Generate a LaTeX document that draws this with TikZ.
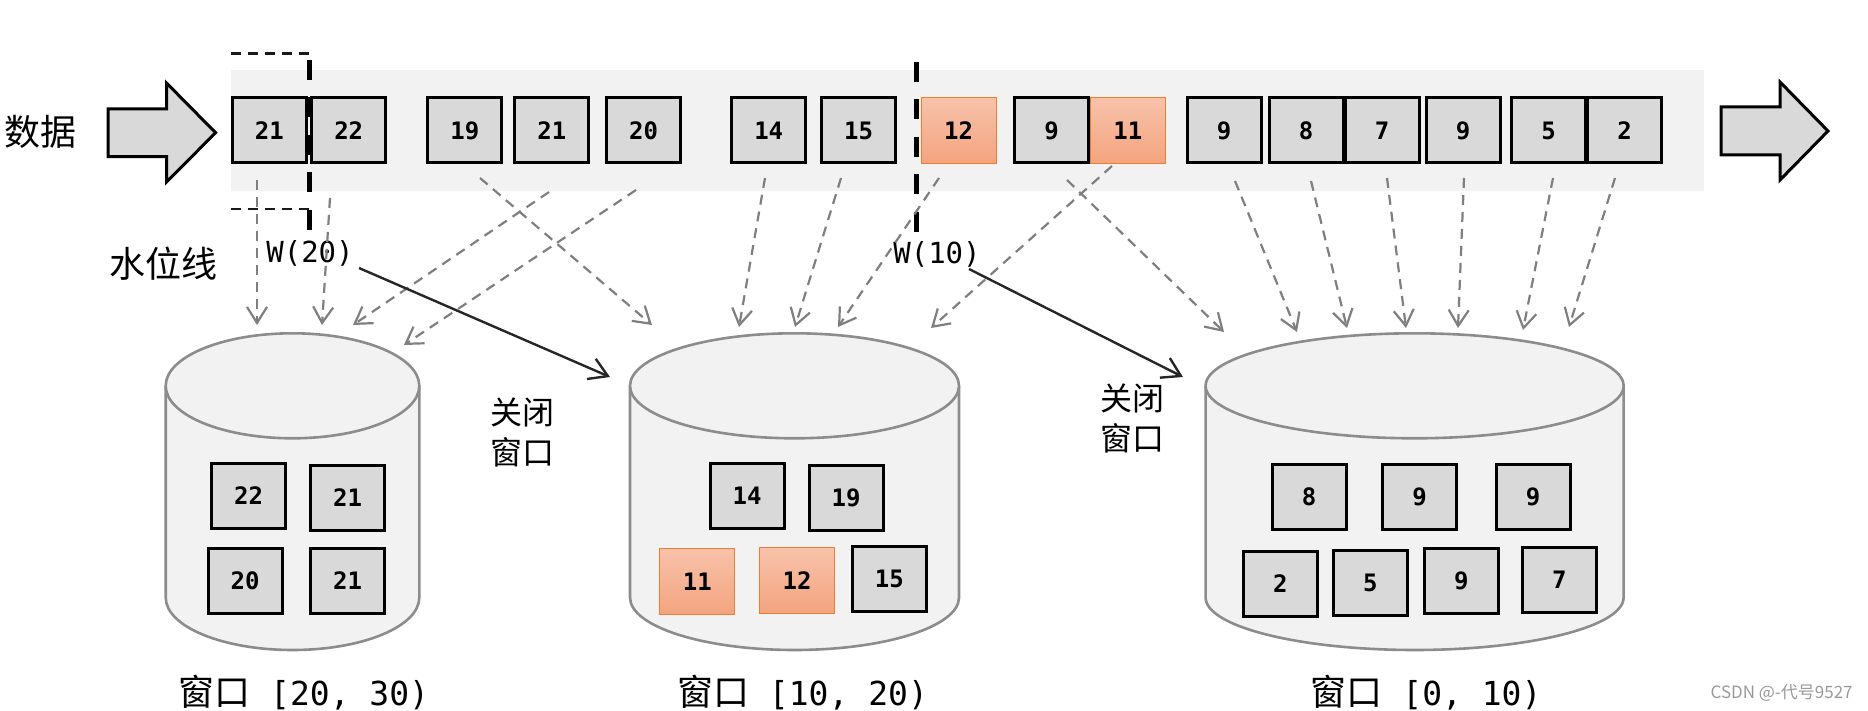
\documentclass[tikz,border=0pt]{standalone}
\usepackage{fontspec}
\usetikzlibrary{arrows.meta,calc}
\newfontfamily\cjk{Noto Sans CJK SC}
\newfontfamily\mono{DejaVu Sans Mono}
\definecolor{bandgray}{HTML}{F2F2F2}
\definecolor{boxgray}{HTML}{D9D9D9}
\definecolor{cylfill}{HTML}{F2F2F2}
\definecolor{cylline}{HTML}{8C8C8C}
\definecolor{orangeline}{HTML}{ED7D31}
\definecolor{orangetop}{HTML}{F7C2AA}
\definecolor{orangebot}{HTML}{F4A47F}
\definecolor{flowgray}{HTML}{7F7F7F}
\begin{document}
\begin{tikzpicture}[x=0.5pt,y=0.5pt,
  databox/.style={draw=black, fill=boxgray, line width=1.5pt, minimum width=37pt, minimum height=32.5pt, inner sep=0pt, font=\mono\bfseries\fontsize{12}{12}\selectfont},
  latebox/.style={draw=orangeline, line width=0.5pt, top color=orangetop, bottom color=orangebot, minimum width=37.5pt, minimum height=33pt, inner sep=0pt, font=\mono\bfseries\fontsize{12}{12}\selectfont},
  flow/.style={draw=flowgray, line width=1.1pt, dash pattern=on 5pt off 3.5pt, -{Straight Barb[length=8pt,width=10pt]}},
  closeflow/.style={draw=black!85, line width=1.2pt, -{Straight Barb[length=9pt,width=11pt]}},
  wmark/.style={draw=black, line width=2.5pt, dash pattern=on 10pt off 8.75pt},
  bracket/.style={draw=black!90, line width=1.3pt, dash pattern=on 5pt off 3.5pt},
  bigarrow/.style={draw=black, fill=boxgray, line width=1.5pt, line join=miter},
  cjklabel/.style={font=\cjk\fontsize{18}{22}\selectfont, inner sep=0pt},
  closelabel/.style={font=\cjk\fontsize{16}{20}\selectfont, inner sep=0pt, align=left},
  wlabel/.style={font=\mono\fontsize{14.5}{16}\selectfont, inner sep=0pt},
  winlabel/.style={font=\mono\fontsize{16.5}{20}\selectfont, inner sep=0pt},
]
\useasboundingbox (0,0) rectangle (1868,-711);

% data stream band
\fill[bandgray] (230.8,-70) rectangle (1704,-191);

% big arrows
\draw[bigarrow] (108,-109) -- (166.5,-109) -- (166.5,-83) -- (215.6,-132.7) -- (166.5,-182) -- (166.5,-156.7) -- (108,-156.7) -- cycle;
\draw[bigarrow] (1721,-107) -- (1780,-107) -- (1780,-82) -- (1828,-131) -- (1780,-180) -- (1780,-155) -- (1721,-155) -- cycle;

% stream elements
\node[databox] (t1) at (269.4,-130.5) {21};
\node[databox] (t2) at (348.7,-130.5) {22};
\node[databox] (t3) at (464.8,-130.5) {19};
\node[databox] (t4) at (551.8,-130.5) {21};
\node[databox] (t5) at (643.5,-130.5) {20};
\node[databox] (t6) at (768.7,-130.5) {14};
\node[databox] (t7) at (858.5,-130.5) {15};
\node[latebox] (t8) at (958.5,-130.5) {12};
\node[databox] (t9) at (1051.5,-130.5) {9};
\node[latebox] (t10) at (1127.8,-130.5) {11};
\node[databox] (t11) at (1224,-130.5) {9};
\node[databox] (t12) at (1306,-130.5) {8};
\node[databox] (t13) at (1382,-130.5) {7};
\node[databox] (t14) at (1463,-130.5) {9};
\node[databox] (t15) at (1548.5,-130.5) {5};
\node[databox] (t16) at (1624.5,-130.5) {2};

% watermarks
\draw[bracket] (230.8,-53.3) -- (311,-53.3);
\draw[bracket] (230.8,-209) -- (311,-209);
\draw[wmark] (309.4,-60) -- (309.4,-230);
\draw[wmark] (916.5,-61.7) -- (916.5,-231.7);

% cylinders
\foreach \cx/\rx/\nm in {292.5/63.4pt/cylA, 794.5/82.25pt/cylB, 1414.6/104.5pt/cylC}{
  \fill[cylfill] ([xshift=-\rx]\cx,-385.8) -- ([xshift=-\rx]\cx,-597.5) arc[start angle=180,end angle=360,x radius=\rx,y radius=26.25pt] -- ([xshift=\rx]\cx,-385.8) -- cycle;
  \draw[cylline, line width=1.3pt] ([xshift=-\rx]\cx,-385.8) -- ([xshift=-\rx]\cx,-597.5) arc[start angle=180,end angle=360,x radius=\rx,y radius=26.25pt] -- ([xshift=\rx]\cx,-385.8);
  \draw[cylline, fill=cylfill, line width=1.3pt] (\cx,-385.8) ellipse[x radius=\rx, y radius=26.25pt];
  \coordinate (\nm) at (\cx,-385.8);
}

% window [20,30)
\node[databox] (a1) at (248.5,-495.8) {22};
\node[databox] (a2) at (347.5,-497.5) {21};
\node[databox] (a3) at (245,-580.8) {20};
\node[databox] (a4) at (347.5,-580.8) {21};
% window [10,20)
\node[databox] (b1) at (747,-495.8) {14};
\node[databox] (b2) at (846,-497.5) {19};
\node[latebox] (b3) at (697.4,-581.7) {11};
\node[latebox] (b4) at (797,-580.7) {12};
\node[databox] (b5) at (889.4,-578.8) {15};
% window [0,10)
\node[databox] (c1) at (1309,-497) {8};
\node[databox] (c2) at (1419.5,-497) {9};
\node[databox] (c3) at (1533,-497) {9};
\node[databox] (c4) at (1280.3,-583.5) {2};
\node[databox] (c5) at (1370.3,-582.7) {5};
\node[databox] (c6) at (1461.3,-580.8) {9};
\node[databox] (c7) at (1559.3,-579.7) {7};

% labels
\node[cjklabel] (data) at (40,-132) {数据};
\node[cjklabel] (wline) at (163,-264) {水位线};
\node[wlabel] (w20) at (310,-253) {W(20)};
\node[wlabel] (w10) at (937,-254) {W(10)};
\node[closelabel] (close1) at (522,-432) {关闭\\窗口};
\node[closelabel] (close2) at (1132,-418) {关闭\\窗口};
\node[winlabel] (lblA) at (303.7,-693) {{\cjk\fontsize{18}{20}\selectfont 窗口} [20, 30)};
\node[winlabel] (lblB) at (802.5,-693) {{\cjk\fontsize{18}{20}\selectfont 窗口} [10, 20)};
\node[winlabel] (lblC) at (1426,-693) {{\cjk\fontsize{18}{20}\selectfont 窗口} [0, 10)};
\node[font=\cjk\fontsize{8.5}{10}\selectfont, text=black!40, inner sep=0pt] (csdn) at (1781.6,-692.5) {CSDN @-代号9527};

% flow ends
\coordinate (e1) at (257,-325);
\coordinate (e2) at (322,-325);
\coordinate (e3) at (353,-325);
\coordinate (e4) at (404,-345);
\coordinate (e5) at (652,-325);
\coordinate (e6) at (739,-327);
\coordinate (e7) at (795,-327);
\coordinate (e8) at (838,-327);
\coordinate (e9) at (931,-328);
\coordinate (e10) at (1224,-332);
\coordinate (e11) at (1297,-332);
\coordinate (e12) at (1347,-328);
\coordinate (e13) at (1406,-328);
\coordinate (e14) at (1458,-328);
\coordinate (e15) at (1523,-330);
\coordinate (e16) at (1569,-327);

\foreach \s/\dx/\dy/\e in {t1/-12.4/-49.5/e1, t2/-18.7/-67.5/e2, t4/-2.8/-61.5/e3, t5/-7.5/-59.5/e4,
  t3/15.2/-47.5/e5, t6/-3.7/-47.5/e6, t7/-17.5/-47.5/e7, t8/-19.5/-47.5/e8, t10/-15.8/-35.5/e9,
  t9/15.5/-49.5/e10, t11/11/-50.5/e11, t12/5/-50.5/e12, t13/5/-47.5/e13, t14/1/-47.5/e14,
  t15/4.5/-47.5/e15, t16/-9.5/-47.5/e16}{
  \draw[flow] ($(\s.center)+(\dx,\dy)$) -- (\e);
}

% window closing
\coordinate (closeA) at (610,-377);
\coordinate (closeB) at (1183,-377);
\draw[closeflow] ($(w20.center)+(49,-15)$) -- (closeA);
\draw[closeflow] ($(w10.center)+(32,-15)$) -- (closeB);
\end{tikzpicture}
\end{document}
